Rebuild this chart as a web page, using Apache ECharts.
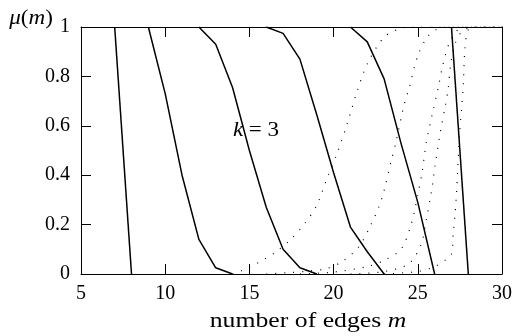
<!DOCTYPE html>
<html>
<head>
<meta charset="utf-8">
<script src="https://cdn.jsdelivr.net/npm/echarts@6/dist/echarts.min.js"></script>
<style>
  html, body { margin: 0; padding: 0; background: #fff; }
  #chart { width: 515px; height: 336px; }
</style>
</head>
<body>
<div id="chart"></div>
<script>
// tick values
const xTicks = [5, 10, 15, 20, 25, 30]
const yTicks = [0, 0.2, 0.4, 0.6, 0.8, 1]

// solid curves, [m, mu]
const curveA = [[7, 1], [8, 0]]
const curveB = [[9, 1], [10, 0.73], [11, 0.40], [12, 0.14], [13, 0.025], [14, 0]]
const curveC = [[12, 1], [13, 0.93], [14, 0.755], [15, 0.5], [16, 0.27], [17, 0.1], [18, 0.025], [19, 0]]
const curveD = [[16, 1], [17, 0.974], [18, 0.87], [19, 0.645], [20, 0.41], [21, 0.19], [22, 0.09], [23, 0]]
const curveE = [[21, 1], [22, 0.94], [23, 0.79], [24, 0.53], [25, 0.29], [26, 0]]
const curveF = [[27, 1], [28, 0]]

// dotted curves
const dotsP1 = [[14, 0], [14.55, 0.014], [15.5, 0.045], [16.5, 0.086], [17.5, 0.143], [18.3, 0.206], [19, 0.278],
  [19.65, 0.395], [20.2, 0.487], [20.8, 0.607], [21.4, 0.74], [22, 0.85], [23, 0.959], [24, 0.995], [24.7, 1], [30, 1]]
const dotsP2 = [[16, 0], [17.5, 0.006], [18.5, 0.012], [19.55, 0.021], [20.5, 0.05], [21.5, 0.11], [22.2, 0.197],
  [22.7, 0.274], [23, 0.338], [23.4, 0.453], [23.7, 0.533], [24.15, 0.675], [24.5, 0.756], [25, 0.884],
  [25.6, 0.963], [26.1, 0.99], [26.6, 1], [30, 1]]
const dotsP3 = [[18, 0], [20, 0.008], [22, 0.03], [23, 0.055], [24, 0.1], [24.6, 0.2], [25, 0.32], [25.25, 0.41],
  [25.5, 0.53], [25.9, 0.66], [26.2, 0.75], [26.5, 0.85], [26.9, 0.94], [27.4, 0.99], [28, 1], [30, 1]]
const dotsP4 = [[21, 0], [23, 0.01], [24.45, 0.041], [25.2, 0.12], [25.5, 0.22], [25.8, 0.33], [26.05, 0.45],
  [26.35, 0.58], [26.6, 0.668], [26.8, 0.75], [26.95, 0.845], [27.2, 0.93], [27.6, 0.98], [28.2, 1], [30, 1]]
const dotsP5 = [[23, 0], [25, 0.01], [26, 0.03], [26.7, 0.06], [27, 0.08], [27.1, 0.16], [27.2, 0.23], [27.3, 0.33],
  [27.49, 0.574], [27.69, 0.749], [27.8, 0.91], [28, 0.99], [28.5, 1], [30, 1]]

const serif = 'Liberation Serif'

function solidLine(data) {
  return {
    type: 'line',
    data,
    symbol: 'none',
    silent: true,
    z: 3,
    lineStyle: { color: '#000', width: 1.5 },
  }
}

function dottedLine(data) {
  return {
    type: 'line',
    data,
    symbol: 'none',
    smooth: 0.3,
    silent: true,
    z: 2,
    lineStyle: { color: '#000', width: 1.2, type: [1, 8] },
  }
}

function axisBase(min, max, interval, position, showLabel, fmt) {
  return {
    type: 'value',
    min,
    max,
    interval,
    position,
    axisLine: { show: true, onZero: false, lineStyle: { color: '#000', width: 1 } },
    axisTick: { show: true, inside: true, length: 10, lineStyle: { color: '#000', width: 1 } },
    axisLabel: {
      show: showLabel,
      color: '#000',
      fontFamily: serif,
      fontSize: 20,
      margin: position === 'bottom' ? 10 : 11,
      formatter: fmt,
    },
    splitLine: { show: false },
  }
}

// mixed roman / italic label, stretched a bit to mimic the wider TeX font
function mathText(x, y, text, size, stretch) {
  return {
    type: 'text',
    x,
    y,
    scaleX: stretch,
    silent: true,
    style: {
      text,
      align: 'center',
      verticalAlign: 'middle',
      rich: {
        i: { fontFamily: serif, fontStyle: 'italic', fontSize: size, fill: '#000' },
        n: { fontFamily: serif, fontSize: size, fill: '#000' },
      },
    },
  }
}

const chart = echarts.init(document.getElementById('chart'), undefined, { renderer: 'canvas' })

const fmtNum = v => String(parseFloat(v.toFixed(1)))

chart.setOption({
  animation: false,
  backgroundColor: '#fff',
  grid: { left: 81, right: 9, top: 27, bottom: 62 },
  xAxis: [
    axisBase(xTicks[0], xTicks[xTicks.length - 1], 5, 'bottom', true, fmtNum),
    axisBase(xTicks[0], xTicks[xTicks.length - 1], 5, 'top', false, fmtNum),
  ],
  yAxis: [
    axisBase(yTicks[0], yTicks[yTicks.length - 1], 0.2, 'left', true, fmtNum),
    axisBase(yTicks[0], yTicks[yTicks.length - 1], 0.2, 'right', false, fmtNum),
  ],
  series: [
    solidLine(curveA),
    solidLine(curveB),
    solidLine(curveC),
    solidLine(curveD),
    solidLine(curveE),
    solidLine(curveF),
    dottedLine(dotsP1),
    dottedLine(dotsP2),
    dottedLine(dotsP3),
    dottedLine(dotsP4),
    dottedLine(dotsP5),
  ],
  graphic: [
    mathText(31, 18, '{i|μ}{n|(}{i|m}{n|)}', 21, 1.1),
    mathText(256, 130.5, '{i|k}{n| = 3}', 20, 1.15),
    mathText(308, 321, '{n|number of edges }{i|m}', 22, 1.17),
  ],
})
</script>
</body>
</html>
